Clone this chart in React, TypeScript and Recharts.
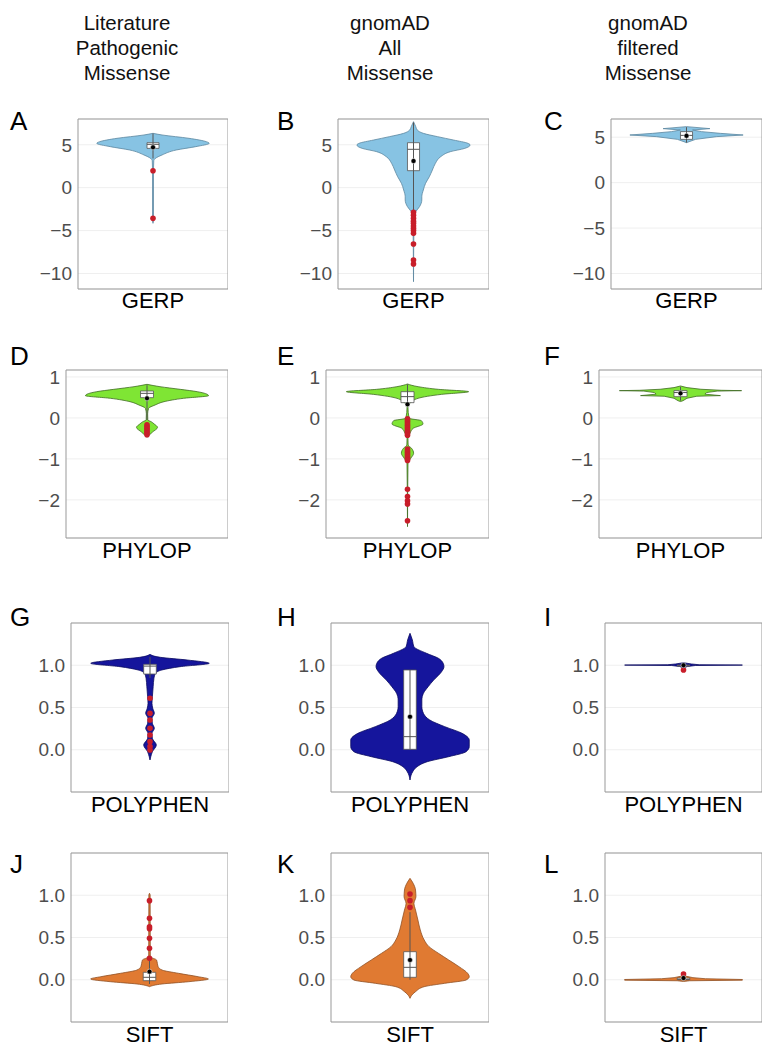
import {
  Area,
  CartesianGrid,
  ComposedChart,
  ReferenceArea,
  ReferenceDot,
  ReferenceLine,
  XAxis,
  YAxis,
} from "recharts";

const columnTitles = [
  ["Literature", "Pathogenic", "Missense"],
  ["gnomAD", "All", "Missense"],
  ["gnomAD", "filtered", "Missense"],
];
const scoreNames = ["GERP", "PHYLOP", "POLYPHEN", "SIFT"];
const panelLetters = ["A", "B", "C", "D", "E", "F", "G", "H", "I", "J", "K", "L"];

const gerpTicks = [-10, -5, 0, 5];
const phylopTicks = [-2, -1, 0, 1];
const unitTicks = [0, 0.5, 1.0];

// violin outlines: [score, half width (1 = half the panel)]
const violinA: [number, number][] = [
  [6.33, 0], [6.14, 0.12], [5.75, 0.48], [5.36, 0.71], [5.17, 0.75], [4.78, 0.57],
  [4.39, 0.31], [3.81, 0.12], [3.4, 0.03], [3.15, 0.01], [2.0, 0.006], [-3.6, 0.006], [-4.15, 0],
];
const violinB: [number, number][] = [
  [7.69, 0], [7.11, 0.03], [6.72, 0.05], [6.33, 0.13], [5.94, 0.32], [5.55, 0.53],
  [5.17, 0.72], [4.97, 0.75], [4.58, 0.68], [4.2, 0.49], [3.61, 0.36], [2.84, 0.29],
  [2.06, 0.25], [1.28, 0.21], [0.51, 0.16], [-0.27, 0.13], [-1.05, 0.11], [-1.43, 0.11],
  [-2.21, 0.08], [-2.79, 0.03], [-3.18, 0.008], [-10.95, 0],
];
const violinC: [number, number][] = [
  [6.16, 0], [5.94, 0.31], [5.79, 0.08], [5.61, 0.2], [5.42, 0.45], [5.24, 0.75],
  [5.06, 0.4], [4.76, 0.12], [4.4, 0],
];
const violinD: [number, number][] = [
  [0.82, 0], [0.763, 0.16], [0.698, 0.41], [0.641, 0.62], [0.544, 0.76], [0.479, 0.45],
  [0.397, 0.21], [0.316, 0.1], [0.235, 0.02], [0.1, 0.008], [-0.05, 0.01], [-0.09, 0.05],
  [-0.15, 0.09], [-0.23, 0.13], [-0.35, 0.065], [-0.47, 0],
];
const violinE: [number, number][] = [
  [0.828, 0], [0.763, 0.13], [0.698, 0.38], [0.641, 0.75], [0.576, 0.42], [0.479, 0.13],
  [0.357, 0.03], [0.275, 0.005], [-0.009, 0.02], [-0.066, 0.17], [-0.148, 0.19],
  [-0.253, 0.07], [-0.375, 0.03], [-0.473, 0.005], [-0.66, 0.008], [-0.741, 0.05],
  [-0.863, 0.075], [-0.985, 0.04], [-1.107, 0.006], [-2.653, 0],
];
const violinF: [number, number][] = [
  [0.78, 0], [0.74, 0.08], [0.7, 0.25], [0.675, 0.5], [0.666, 0.75], [0.655, 0.45],
  [0.62, 0.32], [0.58, 0.3], [0.545, 0.49], [0.53, 0.2], [0.48, 0.08], [0.42, 0.03], [0.4, 0],
];
const violinG: [number, number][] = [
  [1.129, 0], [1.094, 0.13], [1.062, 0.47], [1.023, 0.75], [0.983, 0.38], [0.944, 0.15],
  [0.904, 0.07], [0.845, 0.05], [0.747, 0.04], [0.628, 0.03], [0.549, 0.025], [0.49, 0.035],
  [0.431, 0.055], [0.372, 0.025], [0.313, 0.03], [0.253, 0.055], [0.194, 0.025],
  [0.135, 0.03], [0.056, 0.08], [-0.024, 0.03], [-0.082, 0.01], [-0.121, 0],
];
const violinH: [number, number][] = [
  [1.378, 0], [1.299, 0.03], [1.22, 0.05], [1.141, 0.21], [1.082, 0.36], [1.023, 0.42],
  [0.983, 0.43], [0.924, 0.4], [0.825, 0.3], [0.747, 0.23], [0.668, 0.17], [0.589, 0.15],
  [0.51, 0.15], [0.431, 0.17], [0.352, 0.25], [0.273, 0.44], [0.194, 0.66], [0.115, 0.75],
  [0.036, 0.75], [-0.023, 0.71], [-0.082, 0.49], [-0.141, 0.22], [-0.2, 0.09],
  [-0.259, 0.035], [-0.358, 0],
];
const violinI: [number, number][] = [
  [1.03, 0], [1.015, 0.1], [1.006, 0.2], [1.002, 0.75], [0.997, 0.15], [0.985, 0.05], [0.97, 0],
];
const violinJ: [number, number][] = [
  [1.023, 0], [1.003, 0.008], [0.273, 0.01], [0.234, 0.09], [0.194, 0.1], [0.155, 0.11],
  [0.115, 0.16], [0.076, 0.37], [0.036, 0.62], [0.009, 0.75], [-0.023, 0.5], [-0.05, 0.16],
  [-0.082, 0],
];
const violinK: [number, number][] = [
  [1.2, 0], [1.141, 0.04], [1.062, 0.07], [0.983, 0.075], [0.904, 0.05], [0.825, 0.07],
  [0.707, 0.1], [0.589, 0.13], [0.47, 0.18], [0.392, 0.24], [0.313, 0.36], [0.234, 0.49],
  [0.155, 0.62], [0.076, 0.73], [0.036, 0.75], [-0.003, 0.71], [-0.042, 0.44],
  [-0.082, 0.18], [-0.141, 0.07], [-0.2, 0.01], [-0.22, 0],
];
const violinL: [number, number][] = [
  [0.06, 0], [0.04, 0.04], [0.025, 0.12], [0.012, 0.28], [0.003, 0.75], [-0.005, 0.75],
  [-0.012, 0.08], [-0.02, 0],
];

// box stats: [whisker low, Q1, median, Q3, whisker high, mean]
const boxA = [3.4, 4.58, 5.05, 5.24, 6.3, 4.7];
const boxB = [-2.8, 1.98, 4.47, 5.24, 7.6, 3.11];
const boxC = [4.4, 4.76, 5.2, 5.61, 6.1, 5.15];
const boxD = [-0.05, 0.495, 0.6, 0.658, 0.8, 0.479];
const boxE = [0.3, 0.373, 0.52, 0.641, 0.82, 0.332];
const boxF = [0.42, 0.519, 0.62, 0.666, 0.76, 0.6];
const boxG = [0.85, 0.896, 0.99, 1.011, 1.1, NaN];
const boxH = [0.005, 0.005, 0.155, 0.944, 0.944, 0.391];
const boxI = [0.98, 0.99, 1.0, 1.0, 1.02, 1.0];
const boxJ = [-0.05, -0.011, 0.029, 0.088, 0.24, 0.096];
const boxK = [0.0, 0.029, 0.147, 0.332, 0.8, 0.234];
const boxL = [-0.005, 0.0, 0.005, 0.02, 0.04, 0.02];

const outliersA = [1.98, -3.57];
const outliersB = [-2.87, -3.2, -3.57, -3.9, -4.15, -4.46, -4.73, -5.0, -5.32, -6.56, -8.42, -8.89];
const outliersC: number[] = [];
const outliersD = [-0.17, -0.21, -0.25, -0.29, -0.33, -0.37, -0.41];
const outliersE = [
  -0.02, -0.06, -0.1, -0.14, -0.18, -0.22, -0.26, -0.3, -0.34, -0.38, -0.42,
  -0.76, -0.8, -0.84, -0.88, -0.92, -0.96, -1.0, -1.04, -1.74, -1.92, -2.02, -2.1, -2.51,
];
const outliersF: number[] = [];
const outliersG = [0.609, 0.431, 0.352, 0.253, 0.175, 0.096, 0.037, -0.003];
const outliersH: number[] = [];
const outliersI = [0.944];
const outliersJ = [0.936, 0.727, 0.628, 0.605, 0.49, 0.372, 0.253];
const outliersK = [1.015, 0.936, 0.857];
const outliersL = [0.068];

const violins = [violinA, violinB, violinC, violinD, violinE, violinF, violinG, violinH, violinI, violinJ, violinK, violinL];
const boxes = [boxA, boxB, boxC, boxD, boxE, boxF, boxG, boxH, boxI, boxJ, boxK, boxL];
const outliers = [outliersA, outliersB, outliersC, outliersD, outliersE, outliersF, outliersG, outliersH, outliersI, outliersJ, outliersK, outliersL];

const FONT = "'Liberation Sans', Arial, Helvetica, sans-serif";
const Y_AXIS_W = 60;
const PAD = 14;
const BOX_HALF = 0.08;

const rowStyle = [
  { top: 119, height: 170, ticks: gerpTicks, fill: "#87c3e3", stroke: "#5c86a0", labelTop: 290, letterTop: 108 },
  { top: 370, height: 168, ticks: phylopTicks, fill: "#7fe534", stroke: "#3f6b22", labelTop: 540, letterTop: 343 },
  { top: 623, height: 169, ticks: unitTicks, fill: "#15159c", stroke: "#0a0a60", labelTop: 794, letterTop: 604 },
  { top: 853, height: 169, ticks: unitTicks, fill: "#e07a32", stroke: "#8f5025", labelTop: 1024, letterTop: 851 },
];
const colBoxes = [
  [[78, 150], [338, 151], [611, 151]],
  [[66, 162], [326, 163], [599, 163]],
  [[71, 158], [331, 158], [605, 157]],
  [[71, 157], [331, 158], [605, 157]],
];
const letterX = [10, 277, 544];
const titleX = [127, 390, 648];
const domains: [number, number][] = [
  [-11.8, 8.0], [-11.8, 8.0], [-11.7, 7.0],
  [-2.93, 1.17], [-2.93, 1.17], [-2.93, 1.17],
  [-0.5, 1.5], [-0.5, 1.5], [-0.5, 1.5],
  [-0.5, 1.5], [-0.5, 1.5], [-0.5, 1.5],
];
const sharp = [false, false, true, false, false, true, false, false, true, false, false, true];

const fmtInt = (v: number) => (v < 0 ? `\u2212${Math.abs(v)}` : String(v));
const fmtDec = (v: number) => v.toFixed(1);

function ViolinPanel({ idx }: { idx: number }) {
  const row = Math.floor(idx / 3);
  const col = idx % 3;
  const rs = rowStyle[row];
  const [left, width] = colBoxes[row][col];
  const domain = domains[idx];
  const data = violins[idx].map(([v, hw]) => ({ v, w: [-hw, hw] }));
  const [lo, q1, med, q3, hi, mean] = boxes[idx];

  return (
    <>
      <div style={{ position: "absolute", left: left - Y_AXIS_W, top: rs.top - PAD }}>
        <ComposedChart
          layout="vertical"
          width={width + Y_AXIS_W}
          height={rs.height + 2 * PAD}
          data={data}
          margin={{ top: PAD, right: 0, bottom: PAD, left: 0 }}
        >
          <CartesianGrid vertical={false} stroke="#efefef" />
          <XAxis type="number" domain={[-1, 1]} hide allowDataOverflow />
          <YAxis
            type="number"
            dataKey="v"
            domain={domain}
            ticks={rs.ticks}
            interval={0}
            reversed
            allowDataOverflow
            width={Y_AXIS_W}
            axisLine={false}
            tickLine={false}
            tickSize={0}
            tickMargin={6}
            tickFormatter={row < 2 ? fmtInt : fmtDec}
            tick={{ fill: "#4d4d4d", fontSize: 19, fontFamily: FONT }}
          />
          <Area
            dataKey="w"
            type={sharp[idx] ? "linear" : "monotone"}
            fill={rs.fill}
            fillOpacity={1}
            stroke={rs.stroke}
            strokeWidth={0.8}
            dot={false}
            activeDot={false}
            isAnimationActive={false}
          />
          <ReferenceLine segment={[{ x: 0, y: lo }, { x: 0, y: hi }]} stroke="#555" strokeWidth={1} />
          <ReferenceArea
            x1={-BOX_HALF}
            x2={BOX_HALF}
            y1={q1}
            y2={q3}
            fill="#ffffff"
            fillOpacity={1}
            stroke="#555"
            strokeWidth={0.8}
          />
          <ReferenceLine
            segment={[{ x: -BOX_HALF, y: med }, { x: BOX_HALF, y: med }]}
            stroke="#555"
            strokeWidth={1}
          />
          {outliers[idx].map((o, i) => (
            <ReferenceDot key={i} x={0} y={o} r={2.8} fill="#c81e2a" stroke="none" />
          ))}
          {!Number.isNaN(mean) && (
            <ReferenceDot x={0} y={mean} r={2.5} fill="#000" stroke="#fff" strokeWidth={0.5} />
          )}
          <ReferenceArea
            x1={-1}
            x2={1}
            y1={domain[0]}
            y2={domain[1]}
            fill="none"
            fillOpacity={0}
            stroke="#999"
            strokeWidth={1}
            ifOverflow="visible"
          />
        </ComposedChart>
      </div>
      <div
        style={{
          position: "absolute",
          left: left + width / 2 - 80,
          width: 160,
          top: rs.labelTop,
          textAlign: "center",
          fontSize: 22,
          lineHeight: 1,
          color: "#000",
        }}
      >
        {scoreNames[row]}
      </div>
      <div
        style={{
          position: "absolute",
          left: letterX[col],
          top: rs.letterTop,
          fontSize: 26,
          lineHeight: 1,
          color: "#000",
        }}
      >
        {panelLetters[idx]}
      </div>
    </>
  );
}

export default function App() {
  return (
    <div
      style={{
        position: "absolute",
        left: 0,
        top: 0,
        width: 773,
        height: 1050,
        background: "#fff",
        fontFamily: FONT,
        overflow: "hidden",
      }}
    >
      {columnTitles.map((lines, c) => (
        <div
          key={c}
          style={{
            position: "absolute",
            left: titleX[c] - 100,
            width: 200,
            top: 10,
            textAlign: "center",
            fontSize: 20.5,
            lineHeight: "25px",
            color: "#111",
          }}
        >
          {lines.map((l) => (
            <div key={l}>{l}</div>
          ))}
        </div>
      ))}
      {panelLetters.map((_, i) => (
        <ViolinPanel key={i} idx={i} />
      ))}
    </div>
  );
}
